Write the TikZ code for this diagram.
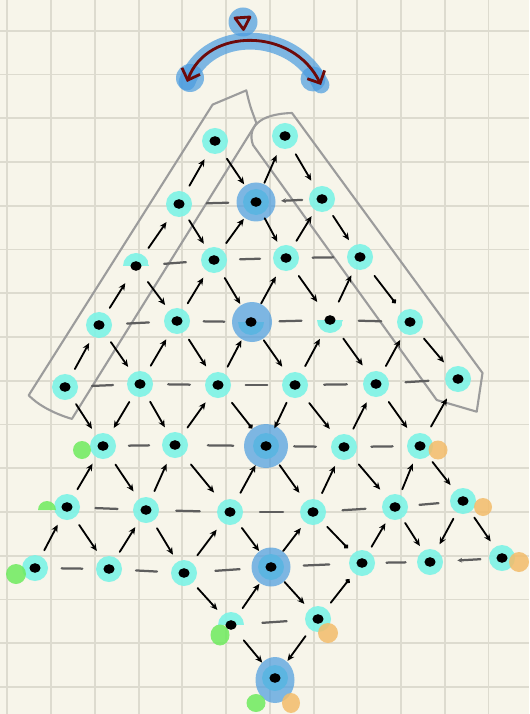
\documentclass[tikz,border=0pt]{standalone}
\usepackage{tikz}
\usetikzlibrary{arrows.meta,calc}
\definecolor{paper}{HTML}{F7F5EA}
\definecolor{gridline}{HTML}{DDDBCF}
\definecolor{aqua}{HTML}{7DF3E6}
\definecolor{hiblue}{HTML}{4A9CE0}
\definecolor{leaf}{HTML}{6EEB5E}
\definecolor{amber}{HTML}{F3BC6A}
\definecolor{wine}{HTML}{6E0A0A}
\definecolor{outline}{HTML}{9C9C9C}
\definecolor{dashgrey}{HTML}{5E5E5E}

\begin{document}
\begin{tikzpicture}[
  x=0.025cm, y=0.025cm,
  site/.style={circle, fill=aqua, fill opacity=0.9, minimum size=0.65cm, inner sep=0pt},
  halftop/.style={circle, minimum size=0.65cm, inner sep=0pt,
    path picture={\fill[aqua, fill opacity=0.9] (path picture bounding box.west) rectangle (path picture bounding box.north east);}},
  halfbottom/.style={circle, minimum size=0.65cm, inner sep=0pt,
    path picture={\fill[aqua, fill opacity=0.9] (path picture bounding box.west) rectangle (path picture bounding box.south east);}},
  hilite/.style={fill=hiblue, fill opacity=0.7},
  blob/.style={fill opacity=0.85},
  flow/.style={line width=1.3pt, line cap=round, -{Stealth[length=1.8mm, width=1.6mm]}},
  flowdot/.style={line width=1.3pt, line cap=round, -{Circle[length=1.2mm, open]}},
  rung/.style={draw=dashgrey, line width=1.6pt, line cap=round},
  lasso/.style={draw=outline, line width=1.5pt, line join=round},
  swing/.style={draw=wine, line width=2pt, line cap=round,
    {Straight Barb[length=2.4mm]}-{Straight Barb[length=2.4mm]}}
]

% paper and grid
\useasboundingbox (0,0) rectangle (529,-714);
\fill[paper] (0,0) rectangle (529,-714);
\foreach \i in {0,...,11}
  \draw[gridline, line width=1.3pt] ({7.4+43.74*\i},0) -- ++(0,-714);
\foreach \j in {0,...,15}
  \draw[gridline, line width=1.3pt] (0,{-30.8-43.75*\j}) -- ++(529,0);

% the two outlines along the sides
\draw[lasso] (212.6,-104.6) -- (246.3,-90.4) .. controls (250,-106) .. (256.4,-123.1)
  -- (71.9,-418.9) .. controls (52,-413) and (37,-404) .. (28.7,-395.3) -- cycle;
\draw[lasso] (253,-145) .. controls (247,-128) and (258,-114) .. (292,-113)
  -- (482.5,-373) -- (476.7,-411.7) -- (436.7,-400) -- cycle;

% sites
\node[site] (a1) at (215,-141) {};
\node[site] (a2) at (285,-136) {};

\node[site] (b1) at (179,-204) {};
\node[site] (b2) at (256,-202) {};
\node[site] (b3) at (322,-199) {};

\node[halftop] (c1) at (136,-266) {};
\node[site] (c2) at (214,-260) {};
\node[site] (c3) at (286,-258) {};
\node[site] (c4) at (360,-257) {};

\node[site] (d1) at (99,-325) {};
\node[site] (d2) at (177,-321) {};
\node[halfbottom] (d3) at (251,-322) {};
\node[halfbottom] (d4) at (330,-320) {};
\node[site] (d5) at (410,-322) {};

\node[site] (e1) at (65,-387) {};
\node[site] (e2) at (140,-384) {};
\node[site] (e3) at (218,-385) {};
\node[site] (e4) at (295,-385) {};
\node[site] (e5) at (376,-384) {};
\node[site] (e6) at (458,-379) {};

\node[site] (f1) at (103,-446) {};
\node[site] (f2) at (175,-445) {};
\node[site] (f3) at (266,-446) {};
\node[site] (f4) at (344,-447) {};
\node[site] (f5) at (420,-446) {};

\node[site] (g1) at (67,-507) {};
\node[site] (g2) at (146,-510) {};
\node[site] (g3) at (230,-512) {};
\node[site] (g4) at (313,-512) {};
\node[site] (g5) at (395,-507) {};
\node[site] (g6) at (463,-501) {};

\node[site] (h1) at (35,-568) {};
\node[site] (h2) at (109,-569) {};
\node[site] (h3) at (184,-573) {};
\node[site] (h4) at (271,-567) {};
\node[site] (h5) at (362,-563) {};
\node[site] (h6) at (430,-562) {};
\node[site] (h7) at (502,-558) {};

\node[halftop] (i1) at (231,-625) {};
\node[site] (i2) at (318,-619) {};

\node[site] (j1) at (275,-678) {};

% highlighted sites
\fill[hilite] (b2) circle (19.5);
\fill[hilite] (252,-322) circle (20);
\fill[hilite] (f3) circle (22);
\fill[hilite] (h4) circle (19.5);
\fill[hilite] (275,-680) ellipse (19.5 and 23);

% green and orange marks
\fill[leaf, blob] (82,-450) circle (9);
\fill[leaf, blob] (38,-510) arc (180:0:9) -- cycle;
\fill[leaf, blob] (16,-574) circle (10);
\fill[leaf, blob] (220,-635) ellipse (9.5 and 10.5);
\fill[leaf, blob] (256,-703) ellipse (9.5 and 9);
\fill[amber, blob] (438,-450) circle (9.5);
\fill[amber, blob] (483,-507) circle (9);
\fill[amber, blob] (519,-562) circle (10);
\fill[amber, blob] (328,-633) circle (10);
\fill[amber, blob] (291,-703) ellipse (9 and 10);

% dots
\foreach \n in {a1,a2,b1,b2,b3,c1,c2,c3,c4,d1,d2,d3,d4,d5,e1,e2,e3,e4,e5,e6,
                f1,f2,f3,f4,f5,g1,g2,g3,g4,g5,g6,h1,h2,h3,h4,h5,h6,h7,i1,i2,j1}
  \fill (\n) ellipse (5.6 and 4.8);

% arrows between rows
\foreach \s/\t in {b1/a1, a1/b2, b2/a2, a2/b3,
                   c1/b1, b1/c2, c2/b2, b2/c3, c3/b3, b3/c4,
                   d1/c1, c1/d2, d2/c2, c2/d3, d3/c3, c3/d4, d4/c4,
                   e1/d1, d1/e2, e2/d2, d2/e3, e3/d3, d3/e4, e4/d4, d4/e5, e5/d5, d5/e6,
                   e1/f1, e2/f1, e2/f2, f2/e3, e4/f3, e4/f4, f4/e5, e5/f5, f5/e6,
                   g1/f1, f1/g2, g2/f2, f2/g3, g3/f3, f3/g4, g4/f4, f4/g5, g5/f5, f5/g6,
                   h1/g1, g1/h2, h2/g2, g2/h3, h3/g3, g3/h4, h4/g4, h5/g5, g5/h6, g6/h6, g6/h7,
                   h3/i1, i1/h4, h4/i2,
                   i1/j1, i2/j1}
  \draw[flow] ($(\s)!0.29!(\t)$) -- ($(\s)!0.71!(\t)$);
\foreach \s/\t in {c4/d5, e3/f3, g4/h5, i2/h5}
  \draw[flowdot] ($(\s)!0.29!(\t)$) -- ($(\s)!0.71!(\t)$);

% dashes within rows
\foreach \s/\t in {b1/b2, c1/c2, c2/c3, c3/c4,
                   d1/d2, d2/d3, d3/d4, d4/d5,
                   e1/e2, e2/e3, e3/e4, e4/e5, e5/e6,
                   f1/f2, f2/f3, f3/f4, f4/f5,
                   g1/g2, g2/g3, g3/g4, g4/g5, g5/g6,
                   h1/h2, h2/h3, h3/h4, h4/h5, h5/h6,
                   i1/i2}
  \draw[rung] ($(\s)!0.36!(\t)$) -- ($(\s)!0.64!(\t)$);
\foreach \s/\t in {b3/b2, h7/h6}
  \draw[rung, -{Stealth[length=1.2mm, width=1.2mm]}] ($(\s)!0.3!(\t)$) -- ($(\s)!0.62!(\t)$);

% swing arrow on top
\coordinate (swingL) at (187,-82);
\coordinate (swingR) at (321,-85);
\draw[draw=hiblue, draw opacity=0.7, line width=12pt, line cap=round]
  (swingL) .. controls (207,-27) and (293,-27) .. (swingR);
\fill[hilite] (190,-78) circle (14);
\fill[hilite] (313,-79) circle (12.5);
\fill[hilite] (243,-22) circle (14.5);
\draw[swing] (swingL) .. controls (207,-27) and (293,-27) .. (swingR);
\draw[wine, line width=2pt, line join=round] (235,-18) -- (250,-17) -- (243.5,-29.5) -- cycle;

\end{tikzpicture}
\end{document}
